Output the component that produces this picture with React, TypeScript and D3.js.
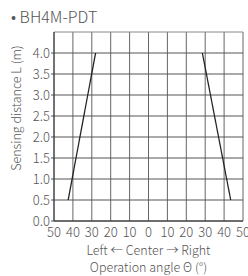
import * as d3 from "d3";

const angleTicks = [-50, -40, -30, -20, -10, 0, 10, 20, 30, 40, 50];
const distTicks = [0, 0.5, 1, 1.5, 2, 2.5, 3, 3.5, 4];
const leftEdge: [number, number][] = [[-42.5, 0.5], [-28, 4.0]];
const rightEdge: [number, number][] = [[28.5, 4.0], [43.5, 0.5]];

const font = "'Noto Sans CJK JP', sans-serif";

export default function App() {
  const width = 248;
  const height = 276;
  const m = { left: 54, right: 5, top: 32, bottom: 55 };

  const x = d3.scaleLinear().domain([-50, 50]).range([m.left, width - m.right]);
  const y = d3.scaleLinear().domain([0, 4.5]).range([height - m.bottom, m.top]);
  const line = d3.line<[number, number]>().x((d) => x(d[0])).y((d) => y(d[1]));

  return (
    <svg
      width={width}
      height={height}
      style={{ position: "absolute", left: 0, top: 0, background: "#fff" }}
      fontFamily={font}
      fontWeight={300}
    >
      <text x={11} y={23} fontSize={16} fill="#555">• BH4M-PDT</text>

      {/* grid */}
      {angleTicks.map((t) => (
        <line key={"v" + t} x1={x(t)} x2={x(t)} y1={y(4.5)} y2={y(0)} stroke="#666" strokeWidth={1} />
      ))}
      {distTicks.map((t) => (
        <line key={"h" + t} x1={x(-50) - 3} x2={x(50)} y1={y(t)} y2={y(t)} stroke="#555" strokeWidth={1} />
      ))}
      <line x1={x(-50)} x2={x(50)} y1={y(4.5)} y2={y(4.5)} stroke="#888" strokeWidth={1} />
      <line x1={x(-50)} x2={x(-50)} y1={y(4.5)} y2={y(0)} stroke="#333" strokeWidth={1} />
      <line x1={x(-50)} x2={x(50)} y1={y(0)} y2={y(0)} stroke="#333" strokeWidth={1} />

      {/* sensing edges */}
      <path d={line(leftEdge) || ""} stroke="#222" strokeWidth={1.3} fill="none" />
      <path d={line(rightEdge) || ""} stroke="#222" strokeWidth={1.3} fill="none" />

      {/* y tick labels */}
      {distTicks.map((t) => (
        <text key={"yl" + t} x={x(-50) - 4} y={y(t) + 4.5} fontSize={13} fill="#555" textAnchor="end">
          {t.toFixed(1)}
        </text>
      ))}
      {/* x tick labels */}
      {angleTicks.map((t) => (
        <text key={"xl" + t} x={x(t)} y={y(0) + 16} fontSize={13} fill="#555" textAnchor="middle">
          {Math.abs(t)}
        </text>
      ))}

      <text transform={`translate(21,108) rotate(-90)`} fontSize={12.5} fill="#555" textAnchor="middle">
        Sensing distance L (m)
      </text>
      <text x={(x(-50) + x(50)) / 2} y={255} fontSize={12.5} fill="#555" textAnchor="middle">
        Left ← Center → Right
      </text>
      <text x={(x(-50) + x(50)) / 2} y={272} fontSize={12.5} fill="#555" textAnchor="middle">
        Operation angle Θ (°)
      </text>
    </svg>
  );
}
